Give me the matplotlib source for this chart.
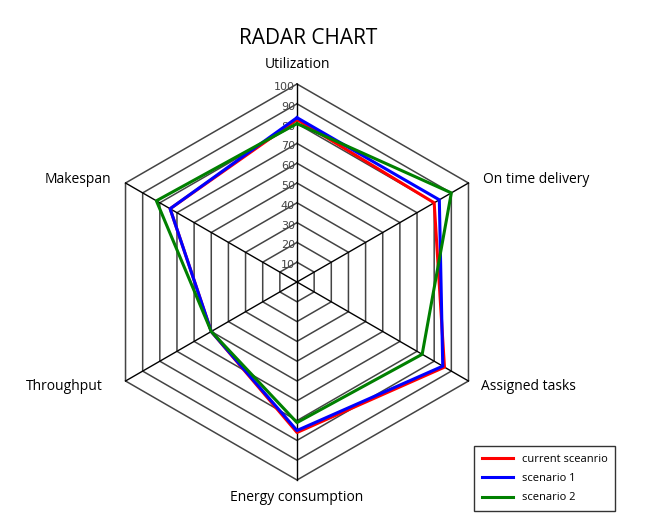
import numpy as np
import matplotlib.pyplot as plt
import matplotlib

plt.rcParams['font.family'] = ['Open Sans', 'DejaVu Sans']

categories = ['Utilization', 'On time delivery', 'Assigned tasks',
              'Energy consumption', 'Throughput', 'Makespan']
current = [82, 80, 86, 76, 50, 74]
scenario1 = [83, 83, 85, 75, 50, 74]
scenario2 = [80, 90, 73, 71, 50, 82]
ring_values = [10, 20, 30, 40, 50, 60, 70, 80, 90, 100]

angles = np.deg2rad([90, 30, -30, -90, -150, 150])


def to_xy(vals):
    r = np.array(vals, dtype=float) / 100.0
    x = r * np.cos(angles)
    y = r * np.sin(angles)
    return np.append(x, x[0]), np.append(y, y[0])


W, H = 668, 527
cx, cy, R = 297, 282, 198

fig = plt.figure(figsize=(W / 100, H / 100), dpi=100)
ax = fig.add_axes([0, 0, 1, 1])
ax.set_xlim(-cx / R, (W - cx) / R)
ax.set_ylim(-(H - cy) / R, cy / R)
ax.axis('off')

# rings
for v in ring_values:
    gx, gy = to_xy([v] * 6)
    ax.plot(gx, gy, color='#444444', linewidth=1.1, zorder=1)
# spokes
for a in angles:
    ax.plot([0, np.cos(a)], [0, np.sin(a)], color='black', linewidth=1.0, zorder=1)

# ring labels
for v in ring_values:
    ax.text(-0.01, v / 100.0 - 0.015, str(v), ha='right', va='center',
            fontsize=8, color='#444444', family='DejaVu Sans', zorder=2)

# series
for vals, col, lab in [(current, 'red', 'current sceanrio'),
                       (scenario1, 'blue', 'scenario 1'),
                       (scenario2, 'green', 'scenario 2')]:
    px, py = to_xy(vals)
    ax.plot(px, py, color=col, linewidth=2.2, label=lab, zorder=3)

# category labels
offsets = [(0, 0.096, 'center'), (0.073, 0.02, 'left'), (0.063, -0.03, 'left'),
           (0, -0.09, 'center'), (-0.117, -0.03, 'right'), (-0.073, 0.02, 'right')]
for cat, a, (dx, dy, ha) in zip(categories, angles, offsets):
    ax.text(np.cos(a) + dx, np.sin(a) + dy, cat, ha=ha, va='center',
            fontsize=10, color='black')

fig.text(308 / W, 1 - 38 / H, 'RADAR CHART', ha='center', va='center',
         fontsize=15, color='black')

leg = fig.legend(loc='upper left', bbox_to_anchor=(474 / W, 1 - 446 / H),
                 borderaxespad=0, fontsize=8, frameon=True, fancybox=False,
                 edgecolor='black', handlelength=2.8, borderpad=0.7,
                 labelspacing=0.75)
leg.get_frame().set_linewidth(1.0)

plt.savefig('out.png', dpi=100)
